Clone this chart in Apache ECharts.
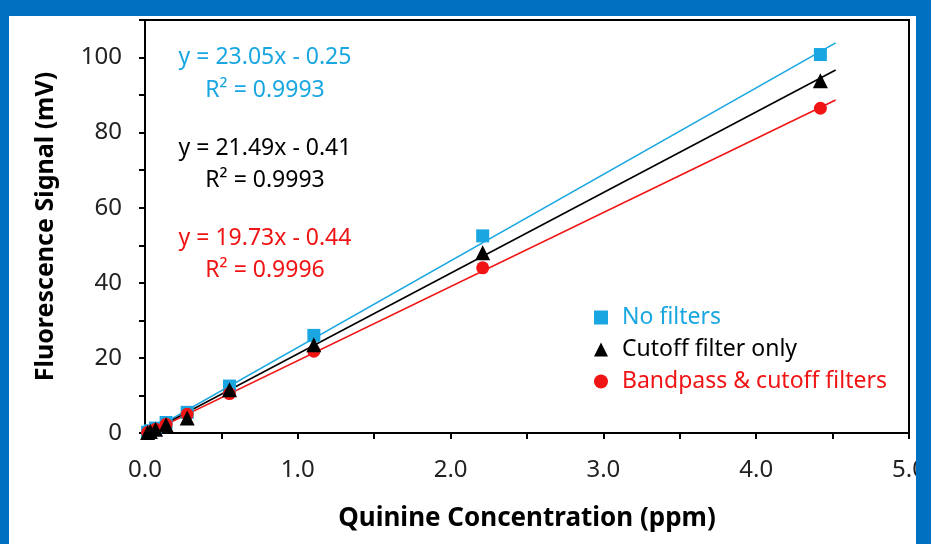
<!DOCTYPE html>
<html>
<head>
<meta charset="utf-8">
<script src="https://cdn.jsdelivr.net/npm/echarts@6/dist/echarts.min.js"></script>
<style>
  html, body { margin: 0; padding: 0; background: #ffffff; }
  #chart { width: 931px; height: 544px; }
</style>
</head>
<body>
<div id="chart"></div>
<script>
// 数据 (浓度 ppm / 荧光信号 mV)
var concentration = [0.017, 0.035, 0.069, 0.138, 0.276, 0.553, 1.105, 2.21, 4.42];
var noFilters = [0.2, 0.6, 1.3, 2.8, 5.5, 12.5, 26.0, 52.5, 100.8];
var cutoffOnly = [0.1, 0.4, 1.0, 2.2, 4.0, 11.5, 23.5, 48.0, 93.8];
var bandpassCutoff = [0.1, 0.4, 1.0, 2.3, 5.0, 10.5, 21.8, 44.0, 86.5];

// 趋势线端点
var fitX = [0.0, 4.52];
var fitNoFilters = [-0.25, 103.9];
var fitCutoff = [-0.41, 96.7];
var fitBandpass = [-0.44, 88.7];

var seriesNames = ['No filters', 'Cutoff filter only', 'Bandpass & cutoff filters'];
var equations = [
    ['y = 23.05x - 0.25', 'R\u00b2 = 0.9993'],
    ['y = 21.49x - 0.41', 'R\u00b2 = 0.9993'],
    ['y = 19.73x - 0.44', 'R\u00b2 = 0.9996']
];

var BLUE = '#1aa7e1';
var BLACK = '#000000';
var RED = '#f01414';
var FONT = '"Noto Sans", "Open Sans", sans-serif';

function pairs(xs, ys) {
    var d = [];
    for (var i = 0; i < xs.length; i++) {
        d.push([xs[i], ys[i]]);
    }
    return d;
}

function fitLine(ys, color) {
    return {
        type: 'line',
        data: pairs(fitX, ys),
        showSymbol: false,
        symbol: 'none',
        lineStyle: { color: color, width: 1.6 },
        silent: true,
        z: 2
    };
}

var myChart = echarts.init(document.getElementById('chart'));

// 方程文本
var eqTexts = [];
var eqColors = [BLUE, BLACK, RED];
var eqRowY = [[57, 90], [148, 180], [238, 270]];
for (var k = 0; k < equations.length; k++) {
    for (var j = 0; j < 2; j++) {
        eqTexts.push({
            type: 'text',
            x: 265, y: eqRowY[k][j],
            style: {
                text: equations[k][j],
                align: 'center',
                verticalAlign: 'middle',
                fill: eqColors[k],
                font: '23px ' + FONT
            },
            z: 10
        });
    }
}

var option = {
    backgroundColor: '#ffffff',
    animation: false,
    grid: {
        left: 145, right: 22, top: 20, bottom: 111,
        show: true, borderColor: '#000', borderWidth: 2
    },
    legend: {
        orient: 'vertical',
        left: 589, top: 301,
        itemWidth: 14, itemHeight: 14, itemGap: 9,
        textStyle: { fontFamily: FONT, fontSize: 23, padding: [0, 0, 0, 9] },
        data: [
            { name: seriesNames[0], icon: 'rect', itemStyle: { color: BLUE }, textStyle: { color: BLUE } },
            { name: seriesNames[1], icon: 'triangle', itemStyle: { color: BLACK }, textStyle: { color: BLACK } },
            { name: seriesNames[2], icon: 'circle', itemStyle: { color: RED }, textStyle: { color: RED } }
        ]
    },
    xAxis: {
        type: 'value', min: 0, max: 5, interval: 0.5,
        name: 'Quinine Concentration (ppm)',
        nameLocation: 'middle', nameGap: 73,
        nameTextStyle: { fontFamily: FONT, fontSize: 26, fontWeight: 'bold', color: '#000' },
        axisLine: { lineStyle: { color: '#000', width: 2 } },
        axisTick: { inside: false, length: 6, lineStyle: { color: '#000', width: 2 } },
        axisLabel: {
            margin: 25, fontFamily: FONT, fontSize: 24, color: '#222',
            formatter: function (v) { return Math.abs(v % 1) < 1e-9 ? v.toFixed(1) : ''; }
        },
        splitLine: { show: false }
    },
    yAxis: {
        type: 'value', min: 0, max: 110, interval: 10,
        name: 'Fluorescence Signal (mV)',
        nameLocation: 'middle', nameGap: 87,
        nameTextStyle: { fontFamily: FONT, fontSize: 25, fontWeight: 'bold', color: '#000' },
        axisLine: { lineStyle: { color: '#000', width: 2 } },
        axisTick: { inside: false, length: 6, lineStyle: { color: '#000', width: 2 } },
        axisLabel: {
            margin: 23, fontFamily: FONT, fontSize: 24, color: '#222',
            formatter: function (v) { return v % 20 === 0 && v <= 100 ? String(v) : ''; }
        },
        splitLine: { show: false }
    },
    graphic: eqTexts.concat([
        { type: 'rect', shape: { x: 0, y: 0, width: 931, height: 16 }, style: { fill: '#0070c0' }, z: 100 },
        { type: 'rect', shape: { x: 0, y: 0, width: 9, height: 544 }, style: { fill: '#0070c0' }, z: 100 },
        { type: 'rect', shape: { x: 916, y: 0, width: 15, height: 544 }, style: { fill: '#0070c0' }, z: 100 }
    ]),
    series: [
        fitLine(fitNoFilters, BLUE),
        fitLine(fitCutoff, BLACK),
        fitLine(fitBandpass, RED),
        {
            name: seriesNames[0], type: 'scatter', symbol: 'rect', symbolSize: 13,
            itemStyle: { color: BLUE, opacity: 1 }, data: pairs(concentration, noFilters), z: 3
        },
        {
            name: seriesNames[1], type: 'scatter', symbol: 'triangle', symbolSize: 15,
            itemStyle: { color: BLACK, opacity: 1 }, data: pairs(concentration, cutoffOnly), z: 4
        },
        {
            name: seriesNames[2], type: 'scatter', symbol: 'circle', symbolSize: 13,
            itemStyle: { color: RED, opacity: 1 }, data: pairs(concentration, bandpassCutoff), z: 3
        }
    ]
};

myChart.setOption(option);
</script>
</body>
</html>
